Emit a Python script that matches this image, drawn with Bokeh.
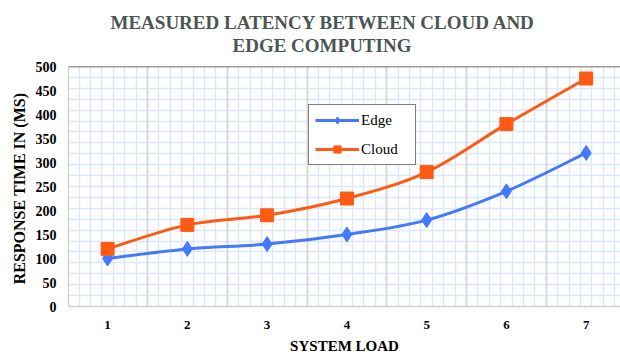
import numpy as np
from bokeh.plotting import figure
from bokeh.models import (ColumnDataSource, FixedTicker, Grid, Legend,
                          LegendItem, Range1d, Span, Title)
from bokeh.embed import file_html
from bokeh.resources import INLINE

# --- data -------------------------------------------------------------
system_load = [1, 2, 3, 4, 5, 6, 7]
edge_ms = [100, 120, 130, 150, 180, 240, 320]
cloud_ms = [120, 170, 190, 225, 280, 380, 475]
y_ticks = [0, 50, 100, 150, 200, 250, 300, 350, 400, 450, 500]
title_lines = ["MEASURED LATENCY BETWEEN CLOUD AND", "EDGE COMPUTING"]
x_title = "SYSTEM LOAD"
y_title = "RESPONSE TIME IN  (MS)"

# --- styling ----------------------------------------------------------
EDGE_COLOR = "#4279ff"
CLOUD_COLOR = "#ff5a14"
SERIF = "Liberation Serif"
FINE_GRID = "#dce8fa"
COARSE_GRID = "#d8d8d8"
TITLE_COLOR = "#4b5654"

p = figure(width=620, height=356, title=None,
           x_range=Range1d(0.51, 7.43), y_range=Range1d(0, 500),
           output_backend="svg", toolbar_location=None,
           min_border_left=68, min_border_right=0,
           min_border_top=66, min_border_bottom=50,
           background_fill_color="white", border_fill_color="white")
p.outline_line_color = None
p.xgrid.grid_line_color = None
p.ygrid.grid_line_color = None

# two-line heading, the second line sits next to the frame
p.add_layout(Title(text=title_lines[1], align="left", offset=164,
                   vertical_align="top", standoff=18,
                   text_font=SERIF, text_font_style="bold",
                   text_font_size="19px", text_color=TITLE_COLOR), "above")
p.add_layout(Title(text=title_lines[0], align="left", offset=42,
                   vertical_align="middle", standoff=-16,
                   text_font=SERIF, text_font_style="bold",
                   text_font_size="19px", text_color=TITLE_COLOR), "above")

# graph-paper background: fine blue squares plus grey category dividers
x_lo, x_hi = p.x_range.start, p.x_range.end
fine_x = [0.5 + k / 7 for k in range(1, 60)
          if x_lo < 0.5 + k / 7 < x_hi and k % 7 != 0]
fine_y = [i * 500 / 22 for i in range(1, 22)]
coarse_x = [c + 0.5 for c in system_load[:-1]]
p.add_layout(Grid(dimension=0, ticker=FixedTicker(ticks=fine_x),
                  grid_line_color=FINE_GRID, grid_line_width=1.5))
p.add_layout(Grid(dimension=1, ticker=FixedTicker(ticks=fine_y),
                  grid_line_color=FINE_GRID, grid_line_width=1.5))
p.add_layout(Grid(dimension=0, ticker=FixedTicker(ticks=coarse_x),
                  grid_line_color=COARSE_GRID, grid_line_width=2))

p.add_layout(Span(location=500, dimension="width",
                  line_color="#3c3c3c", line_width=1.5))

# axes
p.xaxis.ticker = FixedTicker(ticks=system_load)
p.yaxis.ticker = FixedTicker(ticks=y_ticks)
for ax in (p.xaxis, p.yaxis):
    ax.major_tick_out = 0
    ax.major_tick_in = 0
    ax.minor_tick_out = 0
    ax.minor_tick_in = 0
    ax.axis_line_color = "#d0d0d0"
    ax.axis_line_width = 1.5
    ax.major_label_text_font = SERIF
    ax.major_label_text_font_style = "bold"
    ax.major_label_text_color = "black"
    ax.axis_label_text_font = SERIF
    ax.axis_label_text_font_style = "bold"
    ax.axis_label_text_color = "black"
p.xaxis.major_label_text_font_size = "13px"
p.xaxis.major_label_standoff = 14
p.xaxis.axis_label = x_title
p.xaxis.axis_label_text_font_size = "15px"
p.xaxis.axis_label_standoff = 6
p.yaxis.major_label_text_font_size = "14px"
p.yaxis.major_label_standoff = 12
p.yaxis.axis_label = y_title
p.yaxis.axis_label_text_font_size = "16px"
p.yaxis.axis_label_standoff = 5


def smooth_segments(xs, ys, k=1 / 6):
    """Cubic Bezier pieces through the points (Catmull-Rom style)."""
    x = np.asarray(xs, float)
    y = np.asarray(ys, float)
    n = len(x)
    xp = np.concatenate([[x[0]], x, [x[-1]]])
    yp = np.concatenate([[y[0]], y, [y[-1]]])
    return dict(
        x0=xp[1:n], y0=yp[1:n], x1=xp[2:n + 1], y1=yp[2:n + 1],
        cx0=xp[1:n] + (xp[2:n + 1] - xp[0:n - 1]) * k,
        cy0=yp[1:n] + (yp[2:n + 1] - yp[0:n - 1]) * k,
        cx1=xp[2:n + 1] - (xp[3:n + 2] - xp[1:n]) * k,
        cy1=yp[2:n + 1] - (yp[3:n + 2] - yp[1:n]) * k,
    )


items = []
for name, values, color, marker, msize in (
        ("Edge", edge_ms, EDGE_COLOR, "diamond", 15),
        ("Cloud", cloud_ms, CLOUD_COLOR, "square", 13)):
    p.bezier(source=ColumnDataSource(smooth_segments(system_load, values)),
             x0="x0", y0="y0", x1="x1", y1="y1",
             cx0="cx0", cy0="cy0", cx1="cx1", cy1="cy1",
             line_color=color, line_width=3, line_cap="round")
    pts = p.scatter(system_load, values, marker=marker, size=msize,
                    fill_color=color, line_color=color)
    # legend key line (a single undefined point, so nothing shows in the plot)
    key = p.line(x=[float("nan")], y=[float("nan")],
                 line_color=color, line_width=3)
    items.append(LegendItem(label=name, renderers=[key, pts]))

legend = Legend(items=items, location=(240, 141),
                border_line_color="black", border_line_width=1.5,
                background_fill_color="white", background_fill_alpha=1,
                label_text_font=SERIF, label_text_font_size="15px",
                label_text_color="black",
                glyph_width=44, glyph_height=18, label_height=18,
                label_width=48, label_standoff=2, spacing=11, padding=6,
                margin=0)
p.add_layout(legend, "center")

open("out.html", "w").write(file_html(p, INLINE))
